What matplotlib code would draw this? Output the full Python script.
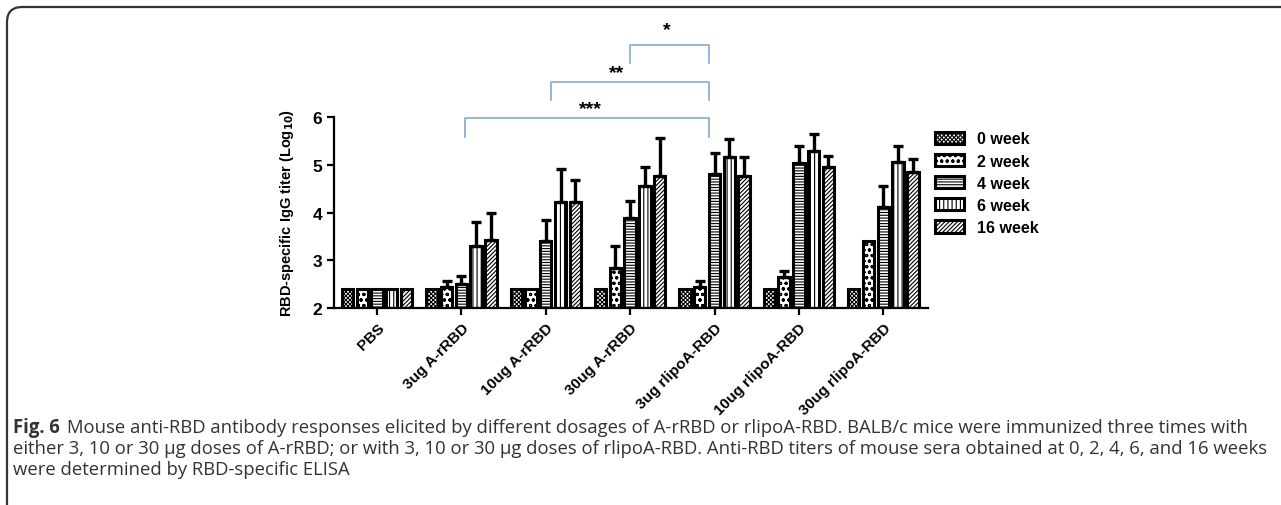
import matplotlib
matplotlib.use("Agg")
import matplotlib.pyplot as plt
import numpy as np
from matplotlib.patches import FancyBboxPatch

plt.rcParams['font.family'] = ['Liberation Sans', 'DejaVu Sans']
plt.rcParams['hatch.linewidth'] = 0.8

groups = ["PBS", "3ug A-rRBD", "10ug A-rRBD", "30ug A-rRBD",
          "3ug rlipoA-RBD", "10ug rlipoA-RBD", "30ug rlipoA-RBD"]
series = ["0 week", "2 week", "4 week", "6 week", "16 week"]
# mean log10 titers per week, per group
wk0 = [2.40, 2.40, 2.40, 2.40, 2.40, 2.40, 2.40]
wk2 = [2.40, 2.45, 2.40, 2.83, 2.45, 2.65, 3.41]
wk4 = [2.40, 2.51, 3.41, 3.88, 4.80, 5.04, 4.12]
wk6 = [2.40, 3.29, 4.22, 4.56, 5.17, 5.28, 5.05]
wk16 = [2.40, 3.42, 4.22, 4.77, 4.77, 4.95, 4.85]
# upper error bar (SD)
err0 = [0, 0, 0, 0, 0, 0, 0]
err2 = [0, 0.12, 0, 0.47, 0.12, 0.12, 0]
err4 = [0, 0.16, 0.44, 0.37, 0.45, 0.36, 0.43]
err6 = [0, 0.52, 0.69, 0.39, 0.37, 0.36, 0.35]
err16 = [0, 0.58, 0.47, 0.78, 0.40, 0.24, 0.27]

means = [wk0, wk2, wk4, wk6, wk16]
errs = [err0, err2, err4, err6, err16]
hatches = ["xxxxxxxx", "ooo", "------", "||||", "////////"]

fig = plt.figure(figsize=(12.81, 5.06), dpi=100)

# frame border
border = FancyBboxPatch((7/1281, -0.2), 1.5, 1.2 - 8/506,
                        boxstyle="round,pad=0,rounding_size=0.012",
                        transform=fig.transFigure, fill=False,
                        edgecolor="#333333", linewidth=1.6, mutation_aspect=2.5)
fig.patches.append(border)

ax = fig.add_axes([334/1281, 1-309/506, (928-334)/1281, (309-118)/506])

x = np.arange(len(groups))
pitch = 0.175
width = 0.135
for i, (m, e, h, lab) in enumerate(zip(means, errs, hatches, series)):
    xs = x + (i - 2) * pitch
    ax.bar(xs, np.array(m) - 2, width=width, bottom=2, facecolor="white",
           edgecolor="black", linewidth=2.2, hatch=h, label=lab, zorder=2)
    ee = np.array(e)
    mask = ee > 0
    ax.errorbar(xs[mask], np.array(m)[mask], yerr=[np.zeros(mask.sum()), ee[mask]],
                fmt="none", ecolor="black", elinewidth=2.4, capsize=3.5,
                capthick=2.4, zorder=3)

ax.set_xlim(-0.51, 6.53)
ax.set_ylim(2, 6)
ax.set_yticks([2, 3, 4, 5, 6])
ax.set_xticks(x)
ax.set_xticklabels(groups, rotation=45, ha="right", rotation_mode="anchor",
                   fontsize=11, fontweight="bold")
for t in ax.get_yticklabels():
    t.set_fontsize(12.5)
    t.set_fontweight("bold")
ax.spines["top"].set_visible(False)
ax.spines["right"].set_visible(False)
ax.spines["left"].set_linewidth(1.6)
ax.spines["bottom"].set_linewidth(1.6)
ax.tick_params(axis="both", width=1.6, length=5, direction="out")
ax.tick_params(axis="x", pad=4)
ax.set_ylabel("RBD-specific IgG titer (Log$_{\\mathbf{10}}$)", fontsize=10.5,
              fontweight="bold", labelpad=12)

# significance brackets
blue = "#8fb0d8"
brackets = [(1.04, 3.94, 5.98, 5.58, 2.53, 6.17, "***"),
            (2.06, 3.94, 6.73, 6.36, 2.84, 6.94, "**"),
            (3.00, 3.94, 7.51, 7.13, 3.43, 7.84, "*")]
for x0, x1, ytop, ybot, tx, ty, s in brackets:
    ax.plot([x0, x0, x1, x1], [ybot, ytop, ytop, ybot], color=blue,
            linewidth=1.3, clip_on=False, zorder=1)
    ax.text(tx, ty, s, ha="center", va="center", fontsize=14,
            fontweight="bold", clip_on=False)

leg = ax.legend(loc="upper left", bbox_to_anchor=(0.988, 1.0), frameon=False,
                prop={"weight": "bold", "size": 11.5}, handlelength=1.8,
                handleheight=0.8, labelspacing=0.45, handletextpad=0.8)
for p in leg.get_patches():
    p.set_linewidth(2.2)

# caption
cap_color = "#333333"
cfs = 13.35
cfam = ["Open Sans", "DejaVu Sans"]
fig.text(13/1281, 1-428/506, "Fig. 6", fontsize=cfs, fontweight="bold",
         family=cfam, color=cap_color, va="center")
fig.text(67/1281, 1-428/506,
         "Mouse anti-RBD antibody responses elicited by different dosages of A-rRBD or rlipoA-RBD. "
         "BALB/c mice were immunized three times with",
         fontsize=cfs, family=cfam, color=cap_color, va="center")
fig.text(13/1281, 1-449/506,
         "either 3, 10 or 30 \u00b5g doses of A-rRBD; or with 3, 10 or 30 \u00b5g doses of rlipoA-RBD. "
         "Anti-RBD titers of mouse sera obtained at 0, 2, 4, 6, and 16 weeks",
         fontsize=cfs, family=cfam, color=cap_color, va="center")
fig.text(13/1281, 1-470/506, "were determined by RBD-specific ELISA",
         fontsize=cfs, family=cfam, color=cap_color, va="center")

fig.savefig("out.png", dpi=100)
